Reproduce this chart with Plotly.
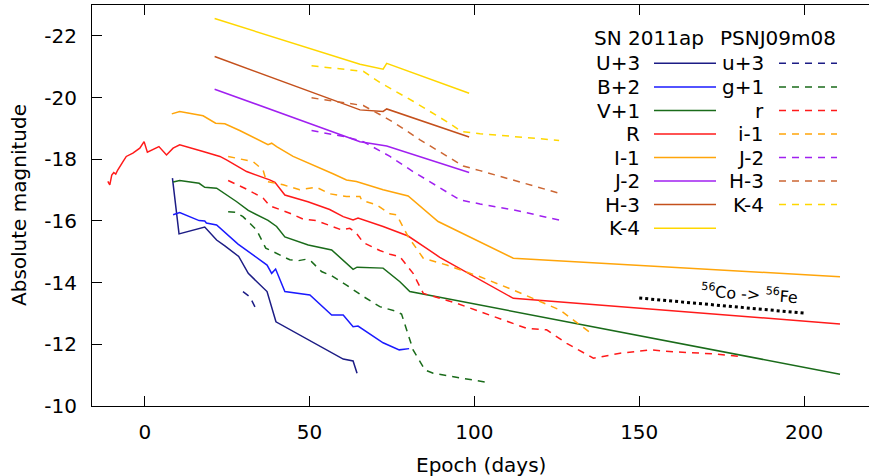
import plotly.graph_objects as go

# ---------------- data: SN 2011ap (solid) ----------------
U_day = [8.4, 10.4, 18.2, 21.8, 24.3, 28.5, 31.4, 37.1, 39.8, 60.2, 63.2, 64.4]
U_mag = [-17.39, -15.58, -15.80, -15.38, -15.19, -14.85, -14.30, -13.71, -12.73, -11.52, -11.46, -11.06]

B_day = [8.6, 10.6, 16.5, 18.2, 18.7, 21.8, 28.3, 37.1, 38.5, 39.7, 42.5, 50.1, 56.7, 60.2, 63.2, 64.7, 72.3, 77.2, 80.2]
B_mag = [-16.20, -16.27, -16.01, -16.00, -15.93, -15.87, -15.25, -14.57, -14.30, -14.44, -13.71, -13.60, -12.95, -12.95, -12.57, -12.59, -12.05, -11.82, -11.86]

V_day = [8.6, 10.6, 16.5, 18.2, 21.8, 27.8, 31.4, 37.4, 40.0, 42.5, 49.6, 56.7, 63.2, 64.4, 72.3, 77.4, 80.4, 210.9]
V_mag = [-17.26, -17.31, -17.22, -17.09, -17.06, -16.63, -16.34, -16.02, -15.82, -15.48, -15.22, -15.06, -14.43, -14.50, -14.47, -14.03, -13.71, -11.03]

R_day = [-11.2, -10.6, -10.0, -9.4, -8.8, -8.2, -6.6, -5.6, -3.6, -1.5, -0.2, 0.8, 4.3, 6.6, 8.6, 10.6,
         17.7, 22.8, 24.8, 30.9, 37.9, 39.5, 42.5, 49.5, 56.1, 60.2, 63.2, 64.7, 72.3, 79.9, 85.5, 89.5, 111.8, 210.9]
R_mag = [-17.28, -17.17, -17.49, -17.57, -17.52, -17.65, -17.92, -18.09, -18.20, -18.36, -18.57, -18.23, -18.41, -18.14, -18.36, -18.47,
         -18.25, -18.09, -17.98, -17.60, -17.33, -17.25, -16.84, -16.62, -16.37, -16.14, -16.03, -16.09, -15.82, -15.51, -15.11, -14.82, -13.49, -12.66]

I_day = [8.2, 10.6, 17.7, 21.5, 24.3, 28.8, 37.4, 38.5, 40.0, 45.0, 57.1, 61.2, 64.2, 72.3, 79.9, 89.0, 111.8, 210.9]
I_mag = [-19.47, -19.55, -19.41, -19.17, -19.15, -18.93, -18.47, -18.52, -18.41, -18.09, -17.53, -17.33, -17.28, -17.01, -16.81, -15.98, -14.79, -14.19]

J_day = [21.2, 65.3, 73.4, 98.4]
J_mag = [-20.27, -18.57, -18.43, -17.57]

H_day = [21.2, 65.3, 72.3, 73.4, 98.4]
H_mag = [-21.33, -19.60, -19.55, -19.63, -18.72]

K_day = [21.2, 65.3, 72.3, 73.4, 98.4]
K_mag = [-22.56, -21.08, -20.92, -21.11, -20.14]

# ---------------- data: PSNJ09m08 (dashed) ----------------
u_day = [29.8, 31.9, 33.9]
u_mag = [-13.71, -13.54, -13.11]

g_day = [25.3, 27.6, 29.8, 33.9, 36.7, 39.8, 44.0, 46.5, 49.1, 50.6, 53.6, 56.7, 61.2, 66.3, 71.3, 75.9, 77.9, 81.4, 85.0, 87.5, 104.2]
g_mag = [-16.30, -16.28, -16.14, -15.71, -15.12, -14.95, -14.74, -14.71, -14.76, -14.68, -14.36, -14.22, -13.92, -13.55, -13.22, -13.08, -12.98, -11.82, -11.17, -11.06, -10.76]

r_day = [25.3, 30.9, 35.9, 37.9, 44.0, 48.0, 52.1, 56.7, 59.7, 62.2, 64.2, 66.3, 71.3, 74.4, 77.4, 81.4, 84.5, 94.6, 101.7,
         115.8, 121.9, 128.0, 136.1, 144.2, 153.3, 160.3, 172.5, 181.6]
r_mag = [-17.31, -17.03, -16.74, -16.49, -16.25, -16.06, -16.01, -15.82, -15.71, -15.76, -15.60, -15.30, -15.04, -14.92, -14.84, -14.30, -13.65, -13.33, -13.06,
         -12.52, -12.47, -12.03, -11.55, -11.71, -11.82, -11.76, -11.69, -11.60]

i_day = [25.3, 32.9, 35.9, 36.9, 42.0, 47.0, 52.1, 56.1, 61.2, 65.3, 65.8, 70.3, 74.4, 76.4, 79.9, 84.5, 91.6, 101.7, 111.8, 126.0, 136.1]
i_mag = [-18.09, -17.92, -17.65, -17.28, -17.17, -17.01, -17.09, -16.88, -16.79, -16.79, -16.67, -16.52, -16.23, -16.20, -15.49, -14.79, -14.57, -14.19, -13.76, -13.11, -12.30]

j_day = [50.6, 61.2, 66.3, 74.4, 81.4, 89.5, 95.6, 101.7, 111.8, 125.7]
j_mag = [-18.93, -18.72, -18.57, -18.09, -17.60, -17.06, -16.68, -16.55, -16.36, -16.03]

h_day = [50.6, 60.7, 66.3, 71.3, 75.9, 83.5, 91.6, 96.6, 101.7, 111.8, 125.7]
h_mag = [-19.99, -19.82, -19.74, -19.45, -19.17, -18.63, -18.09, -17.78, -17.63, -17.33, -16.90]

k_day = [50.6, 61.2, 66.3, 71.3, 81.4, 91.6, 96.1, 101.7, 111.8, 125.7]
k_mag = [-21.03, -20.92, -20.85, -20.49, -19.88, -19.22, -18.90, -18.83, -18.74, -18.61]

# 56Co -> 56Fe decay slope
co_day = [150, 200]
co_mag = [-13.50, -13.01]

sn_labels = ["U+3", "B+2", "V+1", "R", "I-1", "J-2", "H-3", "K-4"]
ps_labels = ["u+3", "g+1", "r", "i-1", "J-2", "H-3", "K-4"]

x_ticks = [0, 50, 100, 150, 200]
x_ticklabels = ["0", "50", "100", "150", "200"]
y_ticks = [-10, -12, -14, -16, -18, -20, -22]
y_ticklabels = ["-10", "-12", "-14", "-16", "-18", "-20", "-22"]

C_U = "#1c1c85"
C_B = "#1a1aff"
C_V = "#1a6b1a"
C_R = "#ff1a1a"
C_I = "#ffa50a"
C_J = "#a020f0"
C_H = "#c4501c"
C_H2 = "#cc6633"
C_K = "#ffd700"

sn_series = [(U_day, U_mag, C_U), (B_day, B_mag, C_B), (V_day, V_mag, C_V), (R_day, R_mag, C_R),
             (I_day, I_mag, C_I), (J_day, J_mag, C_J), (H_day, H_mag, C_H), (K_day, K_mag, C_K)]
ps_series = [(u_day, u_mag, C_U), (g_day, g_mag, C_V), (r_day, r_mag, C_R), (i_day, i_mag, C_I),
             (j_day, j_mag, C_J), (h_day, h_mag, C_H2), (k_day, k_mag, C_K)]

DASH = "7px,6px"
LW = 1.5
FONT = "DejaVu Sans"
FS = 20

fig = go.Figure()
for d, m, c in sn_series:
    fig.add_trace(go.Scatter(x=d, y=m, mode="lines", line=dict(color=c, width=LW), showlegend=False, hoverinfo="skip"))
for d, m, c in ps_series:
    fig.add_trace(go.Scatter(x=d, y=m, mode="lines", line=dict(color=c, width=LW, dash=DASH), showlegend=False, hoverinfo="skip"))
fig.add_trace(go.Scatter(x=co_day, y=co_mag, mode="lines", line=dict(color="black", width=3, dash="dot"), showlegend=False, hoverinfo="skip"))

# geometry of plot area (pixels)
W, H = 869, 476
L, R_, T, B_ = 92, 0, 5, 70
PW = W - L - R_
PH = H - T - B_


def px(x):
    return (x - L) / PW


def py(y):
    return 1 - (y - T) / PH


annotations = []
shapes = []
# headers
annotations.append(dict(x=px(706), y=py(38), xref="paper", yref="paper", text="SN 2011ap", showarrow=False,
                        xanchor="right", yanchor="middle", font=dict(family=FONT, size=FS, color="black")))
annotations.append(dict(x=px(838), y=py(38), xref="paper", yref="paper", text="PSNJ09m08", showarrow=False,
                        xanchor="right", yanchor="middle", font=dict(family=FONT, size=FS, color="black")))
row_y = [63.3, 87.0, 110.5, 134.0, 157.5, 181.0, 204.5, 228.3]
for k, lab in enumerate(sn_labels):
    yy = row_y[k]
    annotations.append(dict(x=px(642), y=py(yy), xref="paper", yref="paper", text=lab, showarrow=False,
                            xanchor="right", yanchor="middle", font=dict(family=FONT, size=FS, color="black")))
    shapes.append(dict(type="line", xref="paper", yref="paper", x0=px(654), x1=px(716), y0=py(yy), y1=py(yy),
                       line=dict(color=sn_series[k][2], width=LW)))
for k, lab in enumerate(ps_labels):
    yy = row_y[k]
    annotations.append(dict(x=px(766), y=py(yy), xref="paper", yref="paper", text=lab, showarrow=False,
                            xanchor="right", yanchor="middle", font=dict(family=FONT, size=FS, color="black")))
    shapes.append(dict(type="line", xref="paper", yref="paper", x0=px(779), x1=px(837), y0=py(yy), y1=py(yy),
                       line=dict(color=ps_series[k][2], width=LW, dash=DASH)))

annotations.append(dict(x=px(749), y=py(293), xref="paper", yref="paper",
                        text="<sup>56</sup>Co -> <sup>56</sup>Fe", showarrow=False, textangle=4,
                        xanchor="center", yanchor="middle", font=dict(family=FONT, size=16, color="black")))

# axis titles
annotations.append(dict(x=px(481), y=py(465), xref="paper", yref="paper", text="Epoch (days)", showarrow=False,
                        xanchor="center", yanchor="middle", font=dict(family=FONT, size=FS, color="black")))
annotations.append(dict(x=px(19), y=py(205), xref="paper", yref="paper", text="Absolute magnitude", showarrow=False,
                        textangle=-90, xanchor="center", yanchor="middle", font=dict(family=FONT, size=FS, color="black")))

fig.update_layout(
    width=W, height=H,
    margin=dict(l=L, r=R_, t=T, b=B_),
    plot_bgcolor="white", paper_bgcolor="white",
    font=dict(family=FONT, size=FS, color="black"),
    annotations=annotations, shapes=shapes,
    showlegend=False,
)
fig.update_xaxes(range=[-16, 219.7], tickvals=x_ticks, ticktext=x_ticklabels, ticks="inside", ticklen=10,
                 tickcolor="black", showline=True, linecolor="black", linewidth=1, mirror="ticks",
                 showgrid=False, zeroline=False, ticklabelstandoff=8, automargin=False)
fig.update_yaxes(range=[-10, -23], tickvals=y_ticks, ticktext=y_ticklabels, ticks="inside", ticklen=10,
                 tickcolor="black", showline=True, linecolor="black", linewidth=1,
                 showgrid=False, zeroline=False, ticklabelstandoff=10, automargin=False)

fig.write_html("out.html", config={"displayModeBar": False},
               post_script="document.body.style.margin='0';document.body.style.padding='0';")
